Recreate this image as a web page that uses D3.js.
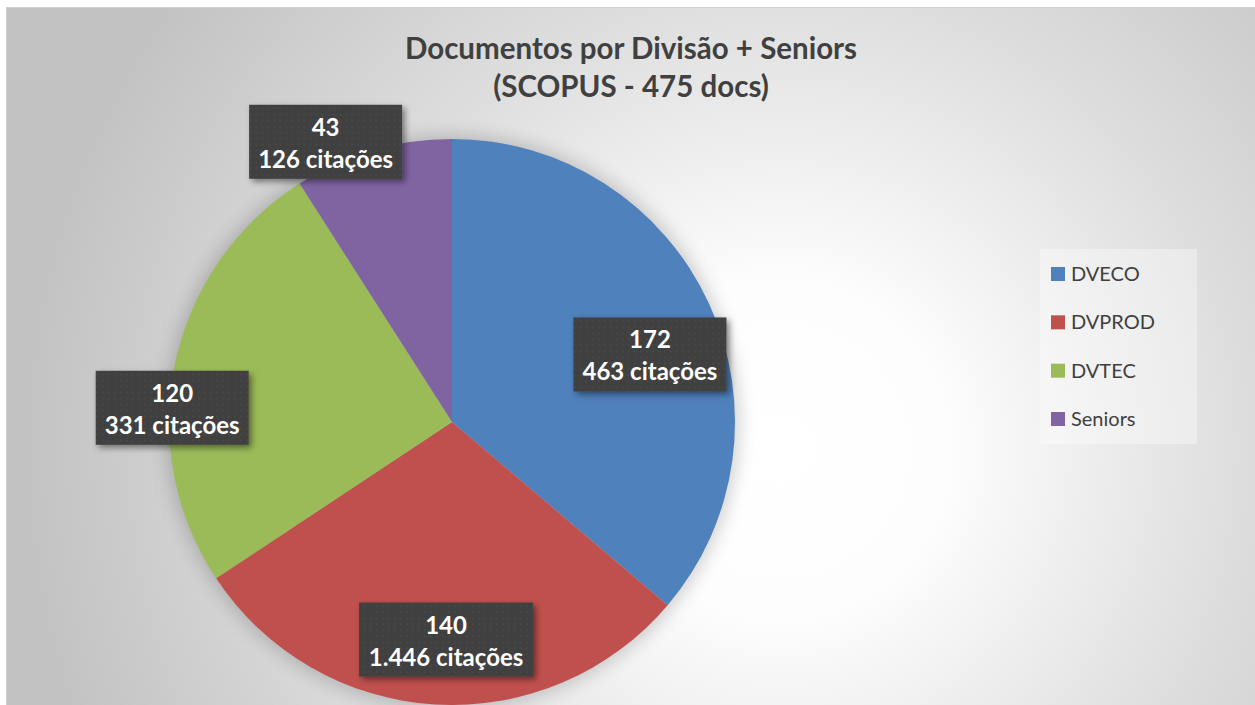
<!DOCTYPE html>
<html>
<head>
<meta charset="utf-8">
<script src="https://cdn.jsdelivr.net/npm/d3@7"></script>
<style>
  html, body { margin: 0; padding: 0; background: #fff; overflow: hidden; }
  text { font-family: Lato, "Open Sans", sans-serif; }
</style>
</head>
<body>
<svg id="chart" width="1255" height="705"></svg>
<script>
'use strict'

// chart data
var categories = ['DVECO', 'DVPROD', 'DVTEC', 'Seniors']
var docs = [172, 140, 120, 43]
var citations = ['463', '1.446', '331', '126']
var titleLines = ['Documentos por Divisão + Seniors', '(SCOPUS - 475 docs)']

var colors = ['#4f81bd', '#c0504d', '#9bbb59', '#8064a2']

var width = 1255
var height = 705
var cx = 452
var cy = 422
var radius = 283

var svg = d3.select('#chart')
var defs = svg.append('defs')

// background gradient, white spot right of the pie, grey corners
var bg = defs.append('radialGradient')
  .attr('id', 'bg')
  .attr('gradientUnits', 'userSpaceOnUse')
  .attr('cx', 780).attr('cy', 450).attr('r', 760)
bg.append('stop').attr('offset', 0).attr('stop-color', '#ffffff')
bg.append('stop').attr('offset', 0.22).attr('stop-color', '#fdfdfd')
bg.append('stop').attr('offset', 0.6).attr('stop-color', '#dedede')
bg.append('stop').attr('offset', 1).attr('stop-color', '#c2c2c2')

var shadow = defs.append('filter').attr('id', 'halo')
  .attr('x', '-20%').attr('y', '-20%').attr('width', '140%').attr('height', '140%')
shadow.append('feGaussianBlur').attr('stdDeviation', 9)

var boxShadow = defs.append('filter').attr('id', 'boxshadow')
  .attr('x', '-20%').attr('y', '-30%').attr('width', '150%').attr('height', '170%')
boxShadow.append('feDropShadow')
  .attr('dx', 3).attr('dy', 3).attr('stdDeviation', 3)
  .attr('flood-color', '#000').attr('flood-opacity', 0.45)

var dots = defs.append('pattern').attr('id', 'dots')
  .attr('patternUnits', 'userSpaceOnUse').attr('width', 6).attr('height', 6)
dots.append('rect').attr('width', 6).attr('height', 6).attr('fill', '#404040')
dots.append('rect').attr('x', 2).attr('y', 2).attr('width', 1.4).attr('height', 1.4).attr('fill', '#4e4e4e')

svg.append('rect')
  .attr('x', 6.5).attr('y', 7.5)
  .attr('width', width).attr('height', height)
  .attr('fill', 'url(#bg)')
  .attr('stroke', '#cfcfcf')

// title
svg.append('text')
  .attr('x', 631).attr('y', 59)
  .attr('text-anchor', 'middle')
  .attr('font-size', 29.5).attr('font-weight', 'bold')
  .attr('fill', '#404040')
  .selectAll('tspan')
  .data(titleLines)
  .enter().append('tspan')
    .attr('x', 631)
    .attr('dy', (d, i) => i ? 38 : 0)
    .text((d) => d)

// pie
var pie = d3.pie().sort(null).value((d) => d)
var arcs = pie(docs)
var arc = d3.arc().innerRadius(0).outerRadius(radius)

var g = svg.append('g').attr('transform', 'translate(' + cx + ',' + cy + ')')

g.append('circle')
  .attr('r', radius + 4)
  .attr('fill', '#000')
  .attr('opacity', 0.18)
  .attr('filter', 'url(#halo)')

g.selectAll('path.slice')
  .data(arcs)
  .enter().append('path')
    .attr('class', 'slice')
    .attr('d', arc)
    .attr('fill', (d, i) => colors[i])

// labels: Excel "best fit" placement, radius factor + nudge per slice
var labelK = [0.72, 0.77, 0.96, 1.05]
var labelNudge = [[13, 18], [7, 0], [-14, 42], [-43, 5]]
var boxW = [153, 174, 153, 153]
var boxH = 74

var labels = g.selectAll('g.label')
  .data(arcs)
  .enter().append('g')
    .attr('class', 'label')
    .attr('transform', (d, i) => {
      var c = d3.arc().innerRadius(radius * labelK[i]).outerRadius(radius * labelK[i]).centroid(d)
      return 'translate(' + (c[0] + labelNudge[i][0]) + ',' + (c[1] + labelNudge[i][1]) + ')'
    })

labels.append('rect')
  .attr('x', (d, i) => -boxW[i] / 2)
  .attr('y', -boxH / 2)
  .attr('width', (d, i) => boxW[i])
  .attr('height', boxH)
  .attr('fill', 'url(#dots)')
  .attr('filter', 'url(#boxshadow)')

labels.append('text')
  .attr('text-anchor', 'middle')
  .attr('font-size', 24).attr('font-weight', 'bold')
  .attr('fill', '#fff')
  .selectAll('tspan')
  .data((d, i) => [String(docs[i]), citations[i] + ' citações'])
  .enter().append('tspan')
    .attr('x', 0)
    .attr('y', (d, i) => i ? 26 : -6)
    .text((d) => d)

// legend
var legend = svg.append('g').attr('transform', 'translate(1040,249)')
legend.append('rect')
  .attr('width', 157).attr('height', 195)
  .attr('fill', '#fff').attr('opacity', 0.35)

var rowY = d3.scalePoint().domain(categories).range([25, 170])

var items = legend.selectAll('g.item')
  .data(categories)
  .enter().append('g')
    .attr('class', 'item')
    .attr('transform', (d) => 'translate(11,' + rowY(d) + ')')

items.append('rect')
  .attr('y', -7).attr('width', 14).attr('height', 14)
  .attr('fill', (d, i) => colors[i])

items.append('text')
  .attr('x', 20).attr('y', 7)
  .attr('font-size', 20)
  .attr('fill', '#404040')
  .text((d) => d)
</script>
</body>
</html>
